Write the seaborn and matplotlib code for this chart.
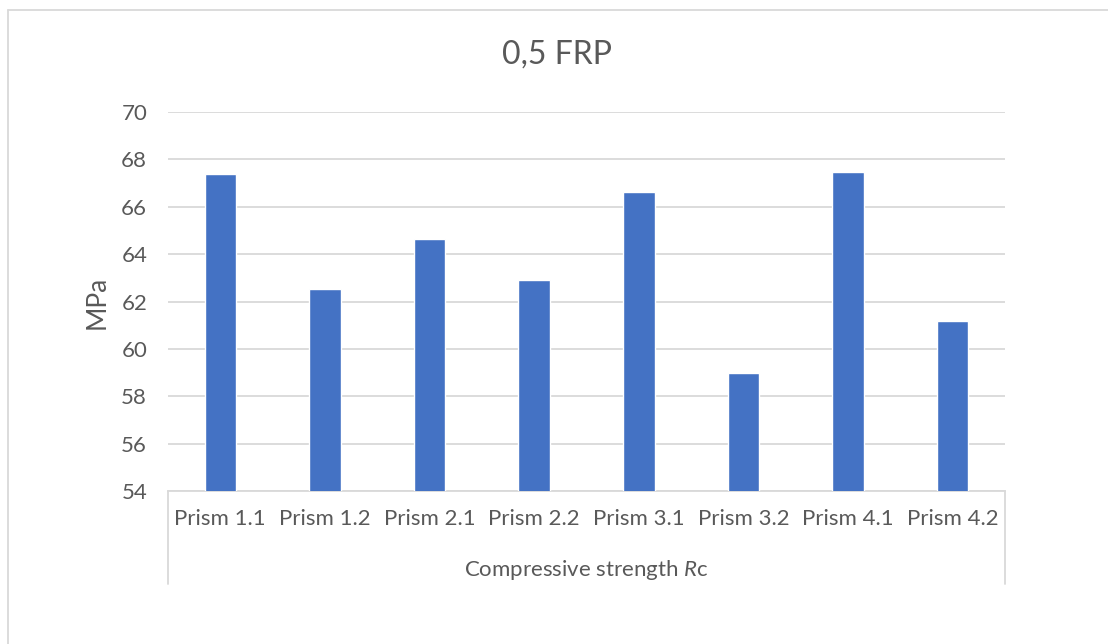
# 0,5 FRP - compressive strength of prisms (bar chart)
import numpy as np
import pandas as pd
import matplotlib
matplotlib.use("Agg")
import matplotlib.pyplot as plt
from matplotlib.lines import Line2D
import seaborn as sns

# data
prisms = ["Prism 1.1", "Prism 1.2", "Prism 2.1", "Prism 2.2",
          "Prism 3.1", "Prism 3.2", "Prism 4.1", "Prism 4.2"]
strength = [67.37, 62.53, 64.64, 62.90, 66.62, 58.99, 67.45, 61.17]
y_ticks = [54, 56, 58, 60, 62, 64, 66, 68, 70]

sns.set_theme(style="white")
plt.rcParams["font.family"] = ["Lato", "DejaVu Sans"]
plt.rcParams["mathtext.fontset"] = "custom"
plt.rcParams["mathtext.it"] = "Lato:italic"
plt.rcParams["mathtext.rm"] = "Lato"

text_col = "#595959"
grid_col = "#D9D9D9"
bar_col = "#4472C4"

df = pd.DataFrame({"Prism": prisms, "MPa": strength})

fig = plt.figure(figsize=(11.08, 6.44), dpi=100)
ax = fig.add_axes([168 / 1108, 1 - 491 / 644, 837 / 1108, 379 / 644])

sns.barplot(data=df, x="Prism", y="MPa", color=bar_col, width=0.3,
            saturation=1, ax=ax, zorder=3)

ax.set_ylim(54, 70)
ax.set_yticks(y_ticks)
ax.set_xlim(-0.5, len(prisms) - 0.5)
ax.yaxis.grid(True, color=grid_col, linewidth=1.3, zorder=0)
ax.set_axisbelow(True)
for s in ["top", "right", "left"]:
    ax.spines[s].set_visible(False)
ax.spines["bottom"].set_color(grid_col)
ax.spines["bottom"].set_linewidth(1.3)
ax.tick_params(axis="y", length=0, pad=15, labelsize=16, labelcolor=text_col)
ax.tick_params(axis="x", length=0, pad=13, labelsize=16, labelcolor=text_col)
ax.set_xlabel("")
ax.set_ylabel("")

# category group box under the axis
box_bottom = -(584 - 491) / 379
for xx in [0, 1]:
    ax.add_line(Line2D([xx, xx], [0, box_bottom], transform=ax.transAxes,
                       color=grid_col, linewidth=1.3, clip_on=False))
ax.text(0.5, -(570 - 491) / 379, "Compressive strength $R$c",
        transform=ax.transAxes, ha="center", va="center",
        fontsize=16, color=text_col)

# texts
fig.text(557 / 1108, 1 - 55 / 644, "0,5 FRP", ha="center", va="center",
         fontsize=23, color=text_col)
fig.text(97 / 1108, 1 - 302 / 644, "MPa", rotation=90, ha="center",
         va="center", fontsize=19, color=text_col)

# outer chart border (top and left visible)
fig.add_artist(Line2D([8 / 1108, 1], [1 - 10 / 644, 1 - 10 / 644],
                      transform=fig.transFigure, color=grid_col, linewidth=1.3))
fig.add_artist(Line2D([8 / 1108, 8 / 1108], [0, 1 - 10 / 644],
                      transform=fig.transFigure, color=grid_col, linewidth=1.3))

fig.savefig("out.png", dpi=100)
